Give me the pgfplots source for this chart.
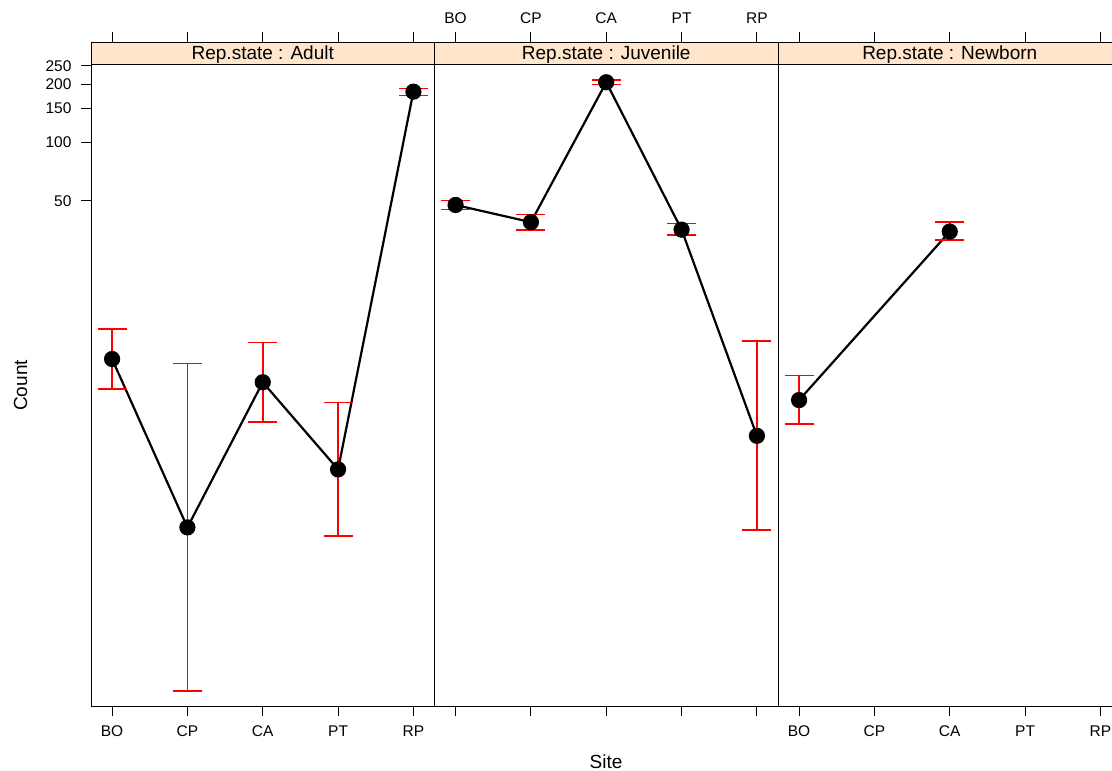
\documentclass[border=0pt]{standalone}
\usepackage{fontspec}
\setmainfont{Liberation Sans}
\usepackage{pgfplots}
\pgfplotsset{compat=1.18}
\definecolor{stripbg}{HTML}{FFE5CC}
\pgfplotsset{
  latpanel/.style={
    scale only axis, width=343.5pt, height=642pt,
    xmin=0.72, xmax=5.28, ymin=0.1202, ymax=253.6,
    axis line style={black, line width=0.9pt},
    tick style={black, line width=0.9pt},
    major tick length=10pt, tick align=outside,
    xtick={1,2,3,4,5}, xtick pos=lower, ytick pos=left,
    yminorticks=false,
    ticklabel style={font=\fontsize{15.5}{18}\selectfont},
    xticklabel style={yshift=-6pt},
    yticklabel style={xshift=-6pt},
    anchor=south west,
  },
  ebar/.style={draw=red, line width=1.5pt, mark=-, mark size=14.5pt, mark options={solid, draw=red, line width=1.5pt}},
  ser/.style={black, line width=2.2pt, mark=*, mark size=7pt, mark options={fill=black}},
}
\begin{document}
\begin{tikzpicture}[x=1pt,y=1pt]
% ---- Panel 1: Adult
\begin{axis}[ymode=log, latpanel, at={(91pt,64.5pt)},
  xticklabels={BO,CP,CA,PT,RP},
  ytick={50,100,150,200,250}, yticklabels={50,100,150,200,250}]
\addplot[ebar] coordinates {(1,5.30) (1,10.83)};
\addplot[ebar] coordinates {(2,0.1445) (2,7.19)};
\addplot[ebar] coordinates {(3,3.57) (3,9.20)};
\addplot[ebar] coordinates {(4,0.917) (4,4.52)};
\addplot[ebar] coordinates {(5,174.9) (5,191.0)};
\addplot[ser] coordinates {(1,7.57) (2,1.017) (3,5.74) (4,2.03) (5,183.4)};
\end{axis}
% ---- Panel 2: Juvenile
\begin{axis}[ymode=log, latpanel, at={(434.5pt,64.5pt)},
  xticklabels={{},{},{},{},{}}, ytick=\empty]
\addplot[ebar] coordinates {(1,44.9) (1,50.2)};
\addplot[ebar] coordinates {(2,35.3) (2,42.3)};
\addplot[ebar] coordinates {(3,199.4) (3,210.9)};
\addplot[ebar] coordinates {(4,33.2) (4,38.0)};
\addplot[ebar] coordinates {(5,0.985) (5,9.38)};
\addplot[ser] coordinates {(1,47.5) (2,38.7) (3,205.2) (4,35.4) (5,3.03)};
\end{axis}
% ---- Panel 3: Newborn
\begin{axis}[ymode=log, latpanel, at={(778pt,64.5pt)},
  xticklabels={BO,CP,CA,PT,RP}, ytick=\empty]
\addplot[ebar] coordinates {(1,3.49) (1,6.21)};
\addplot[ebar] coordinates {(3,31.3) (3,38.7)};
\addplot[ser] coordinates {(1,4.64) (3,34.6)};
\end{axis}
% ---- strips
\foreach \k/\name in {0/Adult,1/Juvenile,2/Newborn}{
  \draw[fill=stripbg, line width=0.9pt] ({91+343.5*\k},706.5) rectangle ({91+343.5*(\k+1)},729);
  \node[anchor=base, inner sep=0pt, font=\fontsize{19}{22}\selectfont] at ({91+343.5*(\k+0.5)},711) {Rep.state : \name};
  \foreach \i in {1,...,5}{
    \draw[line width=0.9pt] ({91+343.5*\k+(\i-0.72)*75.3289},729) -- ++(0,10);
  }
}
% top tick labels of the middle panel
\foreach \i/\lab in {1/BO,2/CP,3/CA,4/PT,5/RP}{
  \node[anchor=base, inner sep=0pt, font=\fontsize{15.5}{18}\selectfont] at ({434.5+(\i-0.72)*75.3289},747) {\lab};
}
\node[anchor=base, rotate=90, inner sep=0pt, font=\fontsize{19}{22}\selectfont] at (27,385.5) {Count};
\node[anchor=base, inner sep=0pt, font=\fontsize{19}{22}\selectfont] at (606,2) {Site};
\pgfresetboundingbox
\useasboundingbox (0,0) rectangle (1112,771);
\end{tikzpicture}
\end{document}
